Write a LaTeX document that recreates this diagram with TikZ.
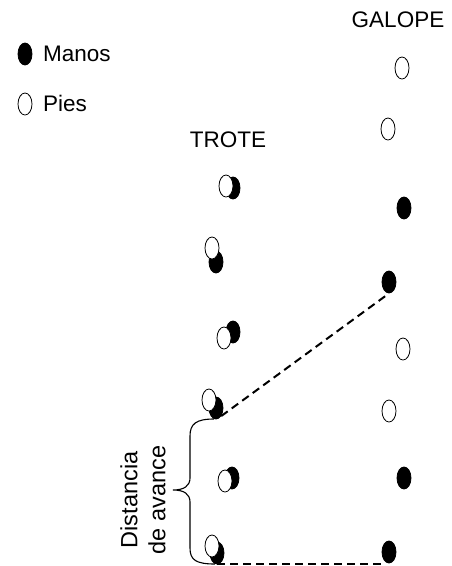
\documentclass[tikz,border=0pt]{standalone}
\usepackage{fontspec}
\setmainfont{Liberation Sans}
\usepackage{tikz}
\usetikzlibrary{shapes.geometric}
\tikzstyle{mano}=[ellipse,draw=black,fill=black,line width=0.8pt,minimum width=14pt,minimum height=22pt,inner sep=0pt]
\tikzstyle{pie}=[ellipse,draw=black,fill=white,line width=0.8pt,minimum width=14pt,minimum height=22pt,inner sep=0pt]
\tikzstyle{label}=[inner sep=0pt,font=\fontsize{22.5}{28}\selectfont]
\tikzstyle{paso}=[line width=2pt,dash pattern=on 8pt off 5pt]

\begin{document}
\begin{tikzpicture}[x=1pt,y=-1pt]
        \useasboundingbox (0,0) rectangle (452,566);
        \node at ( 25, 54) [mano] (lm) {};
        \node at ( 25,104) [pie] (lp) {};
        \node at ( 43, 61) [label,anchor=base west] (lmt) {Manos};
        \node at ( 43,111) [label,anchor=base west] (lpt) {Pies};
        \node at (228,147) [label,anchor=base] (trote) {TROTE};
        \node at (398, 27) [label,anchor=base] (galope) {GALOPE};

        \node at (233,188) [mano] (t1m) {};
        \node at (226,186) [pie] (t1p) {};
        \node at (216,262) [mano] (t2m) {};
        \node at (212,248) [pie] (t2p) {};
        \node at (233,332) [mano] (t3m) {};
        \node at (224,338) [pie] (t3p) {};
        \node at (216,408) [mano] (t4m) {};
        \node at (209,400) [pie] (t4p) {};
        \node at (232,478) [mano] (t5m) {};
        \node at (225,481) [pie] (t5p) {};
        \node at (217,553) [mano] (t6m) {};
        \node at (212,546) [pie] (t6p) {};

        \node at (402, 68) [pie] (g1) {};
        \node at (388,129) [pie] (g2) {};
        \node at (404,208) [mano] (g3) {};
        \node at (389,282) [mano] (g4) {};
        \node at (403,349) [pie] (g5) {};
        \node at (389,411) [pie] (g6) {};
        \node at (404,478) [mano] (g7) {};
        \node at (389,552) [mano] (g8) {};

        \draw [paso] (t4m.south east) -- (g4.south);
        \draw [paso] (t6m.south) -- (t6m.south -| g8.south west);

        \coordinate (btop) at (214,419);
        \coordinate (btip) at (173,490);
        \coordinate (bbot) at (215,564);
        \draw [line width=1.1pt] (btop) .. controls (196,419) and (190,424) .. (190,436) -- (190,478)
              .. controls (190,486) and (184,490) .. (btip)
              .. controls (184,490) and (190,494) .. (190,502) -- (190,548)
              .. controls (190,560) and (196,564) .. (bbot);
        \node at (143,500) [label,rotate=90,align=center,font=\fontsize{23.5}{28}\selectfont] (dist) {Distancia\\de avance};
      \end{tikzpicture}
\end{document}
